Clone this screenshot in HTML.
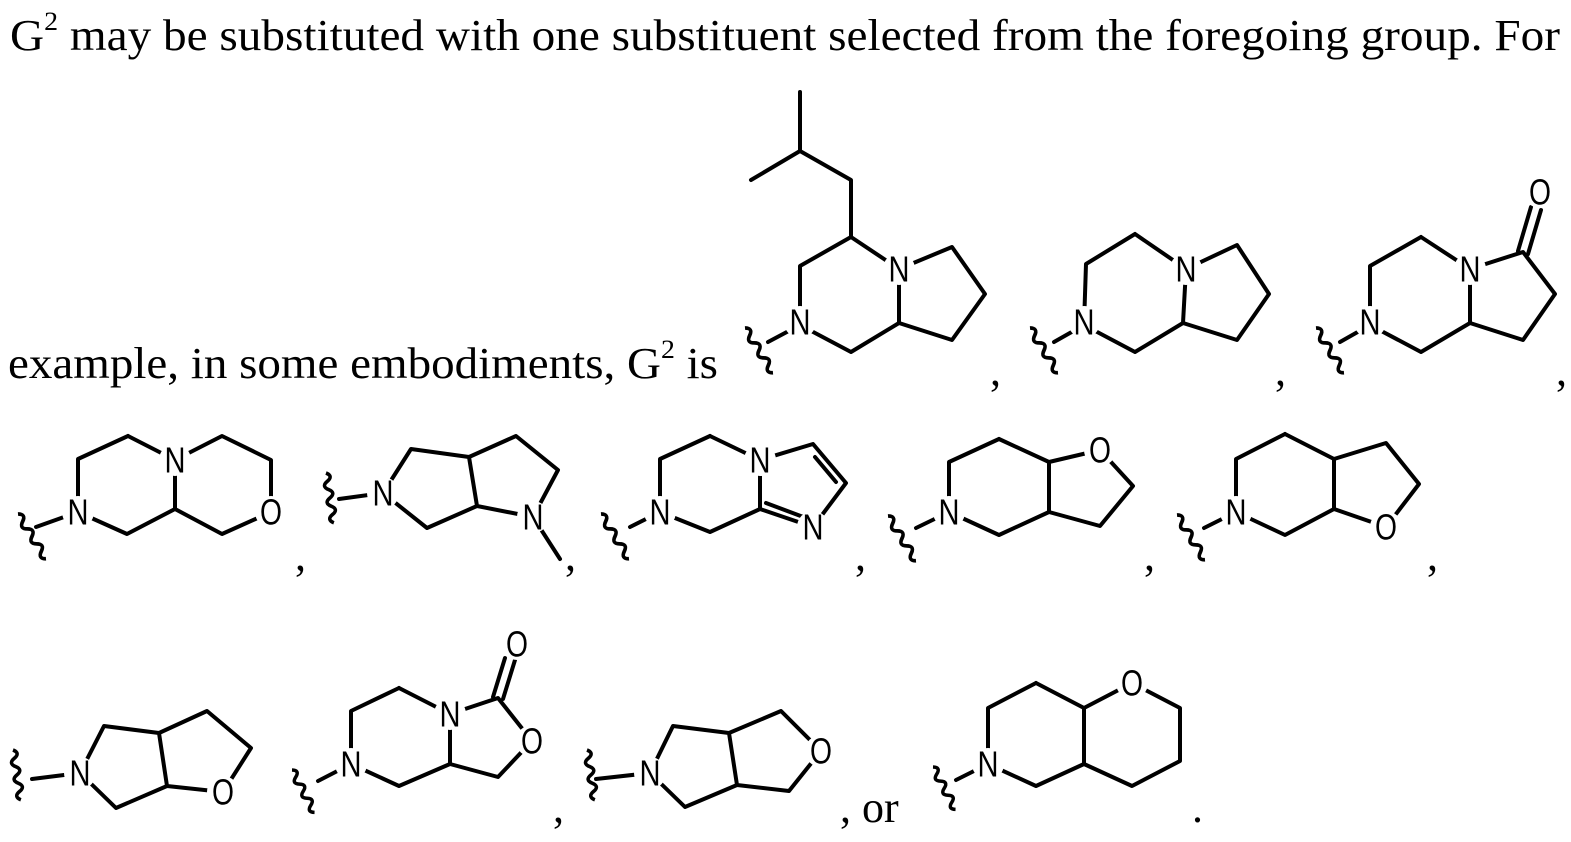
<!DOCTYPE html>
<html><head><meta charset="utf-8"><style>
html,body{margin:0;padding:0;background:#fff;}
svg{display:block;}
.b{stroke:#000;stroke-width:4;fill:none;stroke-linecap:round;stroke-linejoin:round;}
.a{font-family:"Liberation Sans",sans-serif;font-size:36px;text-anchor:middle;dominant-baseline:central;fill:#000;}
.t{font-family:"Liberation Serif",serif;font-size:44px;fill:#000;}
</style></head><body>
<svg width="1571" height="842" viewBox="0 0 1571 842" xmlns="http://www.w3.org/2000/svg">
<defs>
<symbol id="w" overflow="visible"><path d="M0 0 q7 4 0 8 q-7 4 0 8 q7 4 0 8 q-7 4 0 8 q7 4 0 8 q-7 4 0 8" stroke="#000" stroke-width="3.5" fill="none"/></symbol>
</defs>
<text class="t" x="10" y="50" textLength="1550" lengthAdjust="spacingAndGlyphs">G<tspan font-size="26" dy="-20">2</tspan><tspan dy="20"> may be substituted with one substituent selected from the foregoing group.  For</tspan></text>
<text class="t" x="8" y="378" textLength="710" lengthAdjust="spacingAndGlyphs">example, in some embodiments, G<tspan font-size="26" dy="-20">2</tspan><tspan dy="20"> is</tspan></text>

<g class="b">
<path d="M800 92L800 151L751 180M800 151L851 180L851 237L899 269M851 237L800 266L800 325L851 352L899 323L899 269L952 247L985 294L952 340L899 323M800 325L768 342"/>
<path d="M1135 234L1086 264L1084 325L1135 352L1183 323L1186 269L1135 234M1186 269L1237 245L1269 294L1237 340L1183 323M1084 325L1054 342"/>
<path d="M1421 237L1370 266L1370 325L1421 352L1470 323L1470 269L1421 237M1470 269L1523 252L1555 294L1523 340L1470 323M1370 325L1340 342M1518 251L1531 207M1528 254L1541 210"/>
<path d="M128 436L78 459L78 512L127 534L175 509L175 460L128 436M175 460L222 436L271 460L271 512L222 534L175 509M78 512L36 527"/>
<path d="M383 493L411 449L469 457L477 506L427 528L383 493M469 457L516 436L558 470L533 517L477 506M533 517L560 559M383 493L339 499"/>
<path d="M710 436L660 459L660 512L710 532L760 509L760 460L710 436M760 460L813 444L846 483L813 527L760 509M815 457L836 482M766 503L806 518M660 512L630 527"/>
<path d="M999 439L949 462L949 512L999 535L1049 512L1049 462L999 439M1049 462L1100 450L1133 486L1100 526L1049 512M949 512L916 528"/>
<path d="M1285 434L1236 459L1236 512L1285 535L1334 509L1334 459L1285 434M1334 459L1386 443L1419 484L1386 527L1334 509M1236 512L1204 528"/>
<path d="M80 773L104 726L159 733L167 786L116 808L80 773M159 733L207 711L251 748L223 792L167 786M80 773L32 779"/>
<path d="M399 688L351 711L351 764L399 786L450 764L450 714L399 688M450 714L498 698L532 741L498 777L450 764M351 764L318 781M493 697L505 658M503 699L515 660"/>
<path d="M650 773L673 726L729 733L737 785L685 807L650 773M729 733L781 711L821 751L789 791L737 785M650 773L596 779"/>
<path d="M1036 683L988 708L988 764L1036 786L1084 764L1084 708L1036 683M1084 708L1132 683L1180 708L1180 761L1132 786L1084 764M988 764L956 780"/>
</g>

<use href="#w" transform="translate(745,328) rotate(-32) scale(1,1.1)"/>
<use href="#w" transform="translate(1030,328) rotate(-32) scale(1,1.1)"/>
<use href="#w" transform="translate(1316,328) rotate(-32) scale(1,1.1)"/>
<use href="#w" transform="translate(18,514) rotate(-32) scale(1,1.1)"/>
<use href="#w" transform="translate(326,473) rotate(-9) scale(1,1.05)"/>
<use href="#w" transform="translate(601,514) rotate(-32) scale(1,1.1)"/>
<use href="#w" transform="translate(888,516) rotate(-32) scale(1,1.1)"/>
<use href="#w" transform="translate(1177,515) rotate(-32) scale(1,1.1)"/>
<use href="#w" transform="translate(13,750) rotate(-9) scale(1,1.05)"/>
<use href="#w" transform="translate(292,770) rotate(-28) scale(1,1)"/>
<use href="#w" transform="translate(587,750) rotate(-9) scale(1,1.05)"/>
<use href="#w" transform="translate(933,767) rotate(-28) scale(1,1)"/>

<g fill="#fff">
<circle cx="899" cy="269" r="16"/><circle cx="800" cy="322" r="16"/>
<circle cx="1186" cy="269" r="16"/><circle cx="1084" cy="322" r="16"/>
<circle cx="1470" cy="269" r="16"/><circle cx="1370" cy="322" r="16"/><circle cx="1540" cy="192" r="16"/>
<circle cx="175" cy="460" r="16"/><circle cx="78" cy="512" r="16"/><circle cx="271" cy="512" r="16"/>
<circle cx="383" cy="493" r="16"/><circle cx="533" cy="517" r="16"/>
<circle cx="760" cy="460" r="16"/><circle cx="660" cy="512" r="16"/><circle cx="813" cy="527" r="16"/>
<circle cx="949" cy="512" r="16"/><circle cx="1100" cy="450" r="16"/>
<circle cx="1236" cy="512" r="16"/><circle cx="1386" cy="527" r="16"/>
<circle cx="80" cy="773" r="16"/><circle cx="223" cy="792" r="16"/>
<circle cx="351" cy="764" r="16"/><circle cx="450" cy="714" r="16"/><circle cx="532" cy="741" r="16"/><circle cx="517" cy="644" r="16"/>
<circle cx="650" cy="773" r="16"/><circle cx="821" cy="751" r="16"/>
<circle cx="988" cy="764" r="16"/><circle cx="1132" cy="683" r="16"/>
</g>

<g class="a">
<text x="899" y="269" textLength="21" lengthAdjust="spacingAndGlyphs">N</text><text x="800" y="322" textLength="21" lengthAdjust="spacingAndGlyphs">N</text>
<text x="1186" y="269" textLength="21" lengthAdjust="spacingAndGlyphs">N</text><text x="1084" y="322" textLength="21" lengthAdjust="spacingAndGlyphs">N</text>
<text x="1470" y="269" textLength="21" lengthAdjust="spacingAndGlyphs">N</text><text x="1370" y="322" textLength="21" lengthAdjust="spacingAndGlyphs">N</text><text x="1540" y="192" textLength="22" lengthAdjust="spacingAndGlyphs">O</text>
<text x="175" y="460" textLength="21" lengthAdjust="spacingAndGlyphs">N</text><text x="78" y="512" textLength="21" lengthAdjust="spacingAndGlyphs">N</text><text x="271" y="512" textLength="22" lengthAdjust="spacingAndGlyphs">O</text>
<text x="383" y="493" textLength="21" lengthAdjust="spacingAndGlyphs">N</text><text x="533" y="517" textLength="21" lengthAdjust="spacingAndGlyphs">N</text>
<text x="760" y="460" textLength="21" lengthAdjust="spacingAndGlyphs">N</text><text x="660" y="512" textLength="21" lengthAdjust="spacingAndGlyphs">N</text><text x="813" y="527" textLength="21" lengthAdjust="spacingAndGlyphs">N</text>
<text x="949" y="512" textLength="21" lengthAdjust="spacingAndGlyphs">N</text><text x="1100" y="450" textLength="22" lengthAdjust="spacingAndGlyphs">O</text>
<text x="1236" y="512" textLength="21" lengthAdjust="spacingAndGlyphs">N</text><text x="1386" y="527" textLength="22" lengthAdjust="spacingAndGlyphs">O</text>
<text x="80" y="773" textLength="21" lengthAdjust="spacingAndGlyphs">N</text><text x="223" y="792" textLength="22" lengthAdjust="spacingAndGlyphs">O</text>
<text x="351" y="764" textLength="21" lengthAdjust="spacingAndGlyphs">N</text><text x="450" y="714" textLength="21" lengthAdjust="spacingAndGlyphs">N</text><text x="532" y="741" textLength="22" lengthAdjust="spacingAndGlyphs">O</text><text x="517" y="644" textLength="22" lengthAdjust="spacingAndGlyphs">O</text>
<text x="650" y="773" textLength="21" lengthAdjust="spacingAndGlyphs">N</text><text x="821" y="751" textLength="22" lengthAdjust="spacingAndGlyphs">O</text>
<text x="988" y="764" textLength="21" lengthAdjust="spacingAndGlyphs">N</text><text x="1132" y="683" textLength="22" lengthAdjust="spacingAndGlyphs">O</text>
</g>

<g class="t">
<text x="990" y="385">,</text><text x="1275" y="385">,</text><text x="1556" y="385">,</text>
<text x="295" y="570">,</text><text x="565" y="570">,</text><text x="855" y="570">,</text><text x="1144" y="570">,</text><text x="1427" y="570">,</text>
<text x="553" y="822">,</text><text x="840" y="822">, or</text><text x="1192" y="822">.</text>
</g>
</svg>
</body></html>
